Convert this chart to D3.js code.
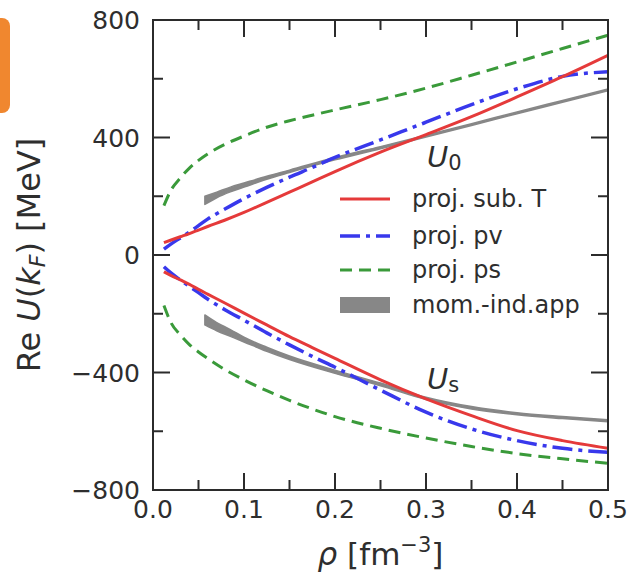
<!DOCTYPE html>
<html>
<head>
<meta charset="utf-8">
<script src="https://cdn.jsdelivr.net/npm/d3@7"></script>
<style>
  html, body { margin: 0; padding: 0; background: #fff; }
  svg { display: block; font-family: "DejaVu Sans", sans-serif; }
</style>
</head>
<body>
<svg id="chart" width="628" height="576"></svg>
<script>
// Density grid (fm^-3) for the projection curves
const rho = [0.012, 0.02, 0.03, 0.04, 0.05, 0.06, 0.08, 0.1, 0.125, 0.15, 0.175, 0.2, 0.25, 0.3, 0.35, 0.4, 0.45, 0.5];

// Vector potential U_0 (MeV)
const u0SubT = [42, 51, 62, 73, 85, 97, 120, 145, 179, 214, 249, 284, 350, 410, 471, 538, 607, 680];
const u0Pv   = [20, 38, 58, 78, 100, 122, 158, 192, 230, 265, 298, 332, 392, 452, 512, 566, 608, 624];
const u0Ps   = [168, 222, 262, 296, 322, 344, 378, 405, 435, 457, 476, 494, 529, 568, 612, 657, 703, 748];

// Scalar potential U_s (MeV)
const usSubT = [-57, -70, -85, -100, -117, -133, -165, -198, -238, -278, -315, -352, -425, -490, -547, -598, -632, -658];
const usPv   = [-40, -62, -85, -107, -128, -150, -188, -222, -265, -306, -345, -382, -460, -535, -592, -632, -658, -672];
const usPs   = [-172, -232, -272, -305, -330, -352, -392, -425, -462, -495, -524, -550, -590, -623, -652, -676, -694, -709];

// Momentum-independent approximation: band edges (MeV)
const rhoBand = [0.057, 0.07, 0.085, 0.1, 0.125, 0.15, 0.2, 0.25, 0.3, 0.35, 0.4, 0.45, 0.5];
const u0BandLo = [172, 195, 215, 231, 258, 281, 324, 362, 402, 441, 481, 520, 559];
const u0BandHi = [200, 214, 231, 245, 268, 289, 332, 369, 408, 447, 487, 526, 565];
const usBandLo = [-238, -258, -277, -296, -328, -356, -403, -445, -492, -524, -544, -557, -568];
const usBandHi = [-204, -230, -254, -280, -314, -344, -392, -436, -484, -516, -537, -550, -561];

// Axis ticks
const xMajor = [0, 0.1, 0.2, 0.3, 0.4, 0.5];
const xMinor = [0.05, 0.15, 0.25, 0.35, 0.45];
const xTickLabels = ["0.0", "0.1", "0.2", "0.3", "0.4", "0.5"];
const yMajor = [-800, -400, 0, 400, 800];
const yMinor = [-600, -200, 200, 600];
const yTickLabels = ["\u2212800", "\u2212400", "0", "400", "800"];

const legendLabels = ["proj. sub. T", "proj. pv", "proj. ps", "mom.-ind.app"];

const svg = d3.select("#chart");
const m = { left: 153, right: 608, top: 20, bottom: 490 };

const x = d3.scaleLinear().domain([0, 0.5]).range([m.left, m.right]);
const y = d3.scaleLinear().domain([-800, 800]).range([m.bottom, m.top]);

// Side tab at the left edge
svg.append("rect")
  .attr("x", -12).attr("y", 18).attr("width", 22).attr("height", 95)
  .attr("rx", 8).attr("fill", "#f0872f");

svg.append("defs").append("clipPath").attr("id", "plot-clip")
  .append("rect")
  .attr("x", m.left).attr("y", m.top)
  .attr("width", m.right - m.left).attr("height", m.bottom - m.top);

const plot = svg.append("g").attr("clip-path", "url(#plot-clip)");

const colors = { subT: "#e53a3a", pv: "#3838ec", ps: "#3a9a3a", band: "#878787" };

// Gray bands
const band = d3.area()
  .x((d, i) => x(rhoBand[i]))
  .y0(d => y(d[0]))
  .y1(d => y(d[1]))
  .curve(d3.curveMonotoneX);

[[u0BandLo, u0BandHi], [usBandLo, usBandHi]].forEach(([lo, hi]) => {
  plot.append("path")
    .datum(lo.map((v, i) => [v, hi[i]]))
    .attr("d", band)
    .attr("fill", colors.band)
    .attr("stroke", colors.band)
    .attr("stroke-width", 1.5)
    .attr("stroke-linejoin", "round");
});

const line = d3.line()
  .x((d, i) => x(rho[i]))
  .y(d => y(d))
  .curve(d3.curveMonotoneX);

const series = [
  { values: u0Ps, color: colors.ps, width: 3, dash: "12,7" },
  { values: usPs, color: colors.ps, width: 3, dash: "12,7" },
  { values: u0Pv, color: colors.pv, width: 3.5, dash: "20,6,4,6" },
  { values: usPv, color: colors.pv, width: 3.5, dash: "20,6,4,6" },
  { values: u0SubT, color: colors.subT, width: 3, dash: null },
  { values: usSubT, color: colors.subT, width: 3, dash: null }
];

series.forEach(s => {
  plot.append("path")
    .datum(s.values)
    .attr("d", line)
    .attr("fill", "none")
    .attr("stroke", s.color)
    .attr("stroke-width", s.width)
    .attr("stroke-dasharray", s.dash)
    .attr("stroke-linecap", "butt");
});

// Frame and inward ticks on all four sides
const axisColor = "#2b2b2b";
const frame = svg.append("g");
frame.append("rect")
  .attr("x", m.left).attr("y", m.top)
  .attr("width", m.right - m.left).attr("height", m.bottom - m.top)
  .attr("fill", "none").attr("stroke", axisColor).attr("stroke-width", 2);

const majorLen = 17, minorLen = 10;
function xTicks(vals, len) {
  vals.forEach(v => {
    frame.append("line").attr("x1", x(v)).attr("x2", x(v))
      .attr("y1", m.bottom).attr("y2", m.bottom - len)
      .attr("stroke", axisColor).attr("stroke-width", 2);
    frame.append("line").attr("x1", x(v)).attr("x2", x(v))
      .attr("y1", m.top).attr("y2", m.top + len)
      .attr("stroke", axisColor).attr("stroke-width", 2);
  });
}
function yTicks(vals, len) {
  vals.forEach(v => {
    frame.append("line").attr("y1", y(v)).attr("y2", y(v))
      .attr("x1", m.left).attr("x2", m.left + len)
      .attr("stroke", axisColor).attr("stroke-width", 2);
    frame.append("line").attr("y1", y(v)).attr("y2", y(v))
      .attr("x1", m.right).attr("x2", m.right - len)
      .attr("stroke", axisColor).attr("stroke-width", 2);
  });
}
xTicks(xMajor, majorLen); xTicks(xMinor, minorLen);
yTicks(yMajor, majorLen); yTicks(yMinor, minorLen);

const textColor = "#2e2e2e";
svg.append("g").selectAll("text").data(xMajor).join("text")
  .attr("x", d => x(d)).attr("y", m.bottom + 28)
  .attr("text-anchor", "middle")
  .attr("font-size", 25).attr("fill", textColor)
  .text((d, i) => xTickLabels[i]);

svg.append("g").selectAll("text").data(yMajor).join("text")
  .attr("x", 140).attr("y", d => y(d) + 9)
  .attr("text-anchor", "end")
  .attr("font-size", 25).attr("fill", textColor)
  .text((d, i) => yTickLabels[i]);

// Axis titles
const yTitle = svg.append("text")
  .attr("transform", "translate(40,255) rotate(-90)")
  .attr("text-anchor", "middle")
  .attr("font-size", 32).attr("fill", textColor);
yTitle.append("tspan").text("Re ");
yTitle.append("tspan").attr("font-style", "italic").text("U");
yTitle.append("tspan").text("(");
yTitle.append("tspan").attr("font-style", "italic").text("k");
yTitle.append("tspan").attr("font-style", "italic").attr("font-size", 22).attr("dy", 5).text("F");
yTitle.append("tspan").attr("dy", -5).text(")");
yTitle.append("tspan").text(" [MeV]");

const xTitle = svg.append("text")
  .attr("x", (m.left + m.right) / 2).attr("y", 565)
  .attr("text-anchor", "middle")
  .attr("font-size", 31).attr("fill", textColor);
xTitle.append("tspan").attr("font-style", "italic").text("\u03C1");
xTitle.append("tspan").text(" [fm");
xTitle.append("tspan").attr("font-size", 21).attr("dy", -13).text("\u22123");
xTitle.append("tspan").attr("dy", 13).text("]");

// Curve-group annotations
function potLabel(xv, yv, sub) {
  const t = svg.append("text")
    .attr("x", x(xv)).attr("y", y(yv))
    .attr("font-size", 29).attr("fill", textColor);
  t.append("tspan").attr("font-style", "italic").text("U");
  t.append("tspan").attr("font-size", 21).attr("dy", 3).text(sub);
}
potLabel(0.301, 300, "0");
potLabel(0.301, -455, "s");

// Legend
const legend = svg.append("g");
const legendY = [199, 236, 270, 305];
const legendItems = [
  { color: colors.subT, dash: null, width: 3 },
  { color: colors.pv, dash: "20,6,4,6", width: 3.5 },
  { color: colors.ps, dash: "12,7", width: 3 },
  { color: colors.band, patch: true }
];
legendItems.forEach((it, i) => {
  if (it.patch) {
    legend.append("rect")
      .attr("x", 340).attr("y", legendY[i] - 8)
      .attr("width", 50).attr("height", 16)
      .attr("fill", it.color);
  } else {
    legend.append("line")
      .attr("x1", 340).attr("x2", 390)
      .attr("y1", legendY[i]).attr("y2", legendY[i])
      .attr("stroke", it.color).attr("stroke-width", it.width)
      .attr("stroke-dasharray", it.dash);
  }
  legend.append("text")
    .attr("x", 412).attr("y", legendY[i] + 8)
    .attr("font-size", 24).attr("fill", textColor)
    .text(legendLabels[i]);
});
</script>
</body>
</html>
